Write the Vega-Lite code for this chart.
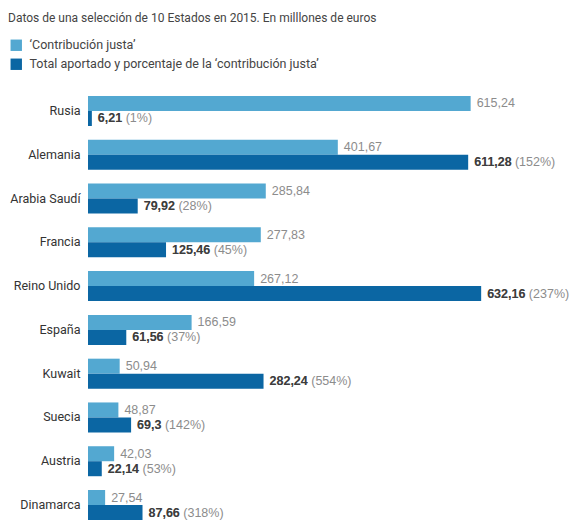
{
  "$schema": "https://vega.github.io/schema/vega-lite/v6.json",
  "autosize": {"type": "none"},
  "padding": {"left": 88, "top": 96, "right": 0, "bottom": 0},
  "width": 482,
  "height": 424,
  "background": "white",
  "config": {
    "font": "Roboto",
    "view": {"stroke": null}
  },
  "title": {
    "text": "Datos de una selección de 10 Estados en 2015. En milllones de euros",
    "anchor": "start",
    "frame": "group",
    "dx": -80,
    "offset": 14,
    "fontSize": 12,
    "fontWeight": "normal",
    "color": "#444444",
    "font": "Roboto"
  },
  "data": {
    "values": [
      {"pais": "Rusia", "serie": "‘Contribución justa’", "valor": 615.24, "etiqueta": "615,24"},
      {"pais": "Rusia", "serie": "Total aportado y porcentaje de la ‘contribución justa’", "valor": 6.21, "etiqueta": "6,21", "completa": "6,21 (1%)"},
      {"pais": "Alemania", "serie": "‘Contribución justa’", "valor": 401.67, "etiqueta": "401,67"},
      {"pais": "Alemania", "serie": "Total aportado y porcentaje de la ‘contribución justa’", "valor": 611.28, "etiqueta": "611,28", "completa": "611,28 (152%)"},
      {"pais": "Arabia Saudí", "serie": "‘Contribución justa’", "valor": 285.84, "etiqueta": "285,84"},
      {"pais": "Arabia Saudí", "serie": "Total aportado y porcentaje de la ‘contribución justa’", "valor": 79.92, "etiqueta": "79,92", "completa": "79,92 (28%)"},
      {"pais": "Francia", "serie": "‘Contribución justa’", "valor": 277.83, "etiqueta": "277,83"},
      {"pais": "Francia", "serie": "Total aportado y porcentaje de la ‘contribución justa’", "valor": 125.46, "etiqueta": "125,46", "completa": "125,46 (45%)"},
      {"pais": "Reino Unido", "serie": "‘Contribución justa’", "valor": 267.12, "etiqueta": "267,12"},
      {"pais": "Reino Unido", "serie": "Total aportado y porcentaje de la ‘contribución justa’", "valor": 632.16, "etiqueta": "632,16", "completa": "632,16 (237%)"},
      {"pais": "España", "serie": "‘Contribución justa’", "valor": 166.59, "etiqueta": "166,59"},
      {"pais": "España", "serie": "Total aportado y porcentaje de la ‘contribución justa’", "valor": 61.56, "etiqueta": "61,56", "completa": "61,56 (37%)"},
      {"pais": "Kuwait", "serie": "‘Contribución justa’", "valor": 50.94, "etiqueta": "50,94"},
      {"pais": "Kuwait", "serie": "Total aportado y porcentaje de la ‘contribución justa’", "valor": 282.24, "etiqueta": "282,24", "completa": "282,24 (554%)"},
      {"pais": "Suecia", "serie": "‘Contribución justa’", "valor": 48.87, "etiqueta": "48,87"},
      {"pais": "Suecia", "serie": "Total aportado y porcentaje de la ‘contribución justa’", "valor": 69.3, "etiqueta": "69,3", "completa": "69,3 (142%)"},
      {"pais": "Austria", "serie": "‘Contribución justa’", "valor": 42.03, "etiqueta": "42,03"},
      {"pais": "Austria", "serie": "Total aportado y porcentaje de la ‘contribución justa’", "valor": 22.14, "etiqueta": "22,14", "completa": "22,14 (53%)"},
      {"pais": "Dinamarca", "serie": "‘Contribución justa’", "valor": 27.54, "etiqueta": "27,54"},
      {"pais": "Dinamarca", "serie": "Total aportado y porcentaje de la ‘contribución justa’", "valor": 87.66, "etiqueta": "87,66", "completa": "87,66 (318%)"}
    ]
  },
  "encoding": {
    "y": {
      "field": "pais",
      "type": "nominal",
      "sort": ["Rusia", "Alemania", "Arabia Saudí", "Francia", "Reino Unido", "España", "Kuwait", "Suecia", "Austria", "Dinamarca"],
      "scale": {"paddingInner": 0.315, "paddingOuter": 0},
      "axis": {
        "title": null,
        "domain": false,
        "ticks": false,
        "grid": false,
        "labelPadding": 8,
        "labelFontSize": 12.5,
        "labelColor": "#333333",
        "labelFont": "Roboto"
      }
    },
    "yOffset": {
      "field": "serie",
      "type": "nominal",
      "sort": ["‘Contribución justa’", "Total aportado y porcentaje de la ‘contribución justa’"],
      "scale": {"paddingInner": 0, "paddingOuter": 0}
    },
    "x": {
      "field": "valor",
      "type": "quantitative",
      "scale": {"domain": [0, 775], "nice": false, "zero": true},
      "axis": null
    }
  },
  "layer": [
    {
      "mark": {"type": "bar", "stroke": null},
      "encoding": {
        "color": {
          "field": "serie",
          "type": "nominal",
          "sort": ["‘Contribución justa’", "Total aportado y porcentaje de la ‘contribución justa’"],
          "scale": {"range": ["#53a8d1", "#0b66a3"]},
          "legend": {
            "title": null,
            "orient": "none",
            "legendX": -78,
            "legendY": -57,
            "symbolType": "square",
            "symbolSize": 130,
            "symbolStrokeWidth": 0,
            "labelFontSize": 12.5,
            "labelColor": "#444444",
            "labelFont": "Roboto",
            "labelOffset": 7,
            "rowPadding": 6,
            "labelLimit": 400
          }
        }
      }
    },
    {
      "transform": [{"filter": "datum.serie == '‘Contribución justa’'"}],
      "mark": {"type": "text", "align": "left", "baseline": "middle", "dx": 6, "font": "Liberation Sans", "fontSize": 12.5, "color": "#8c8c8c"},
      "encoding": {"text": {"field": "etiqueta"}}
    },
    {
      "transform": [{"filter": "datum.serie != '‘Contribución justa’'"}],
      "mark": {"type": "text", "align": "left", "baseline": "middle", "dx": 6, "font": "Liberation Sans", "fontSize": 12.5, "color": "#8c8c8c"},
      "encoding": {"text": {"field": "completa"}}
    },
    {
      "transform": [{"filter": "datum.serie != '‘Contribución justa’'"}],
      "mark": {"type": "text", "align": "left", "baseline": "middle", "dx": 6, "font": "Liberation Sans", "fontSize": 12.5, "fontWeight": "bold", "color": "#3d3d3d"},
      "encoding": {"text": {"field": "etiqueta"}}
    }
  ]
}
